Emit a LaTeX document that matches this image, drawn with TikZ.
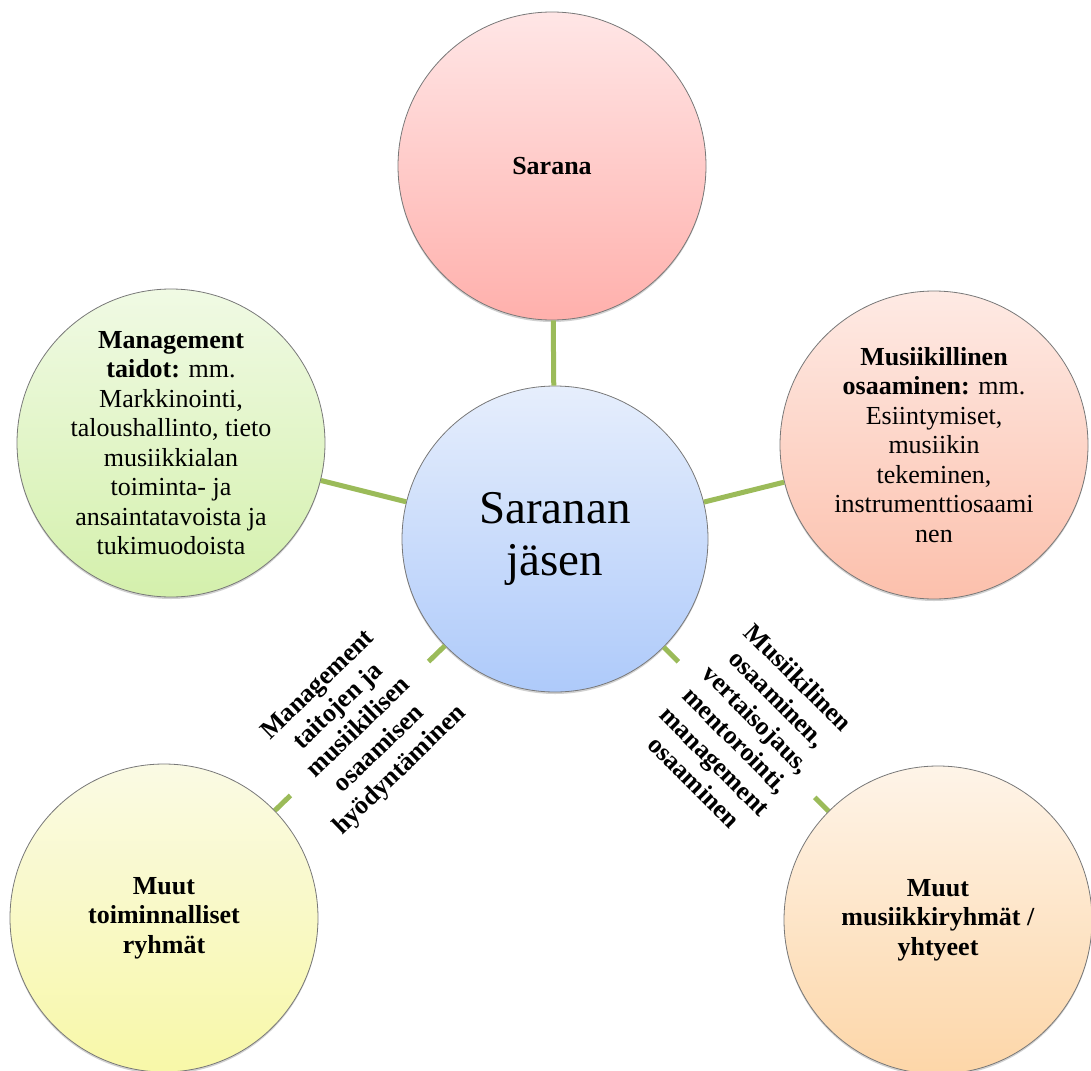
\documentclass[tikz,border=0pt]{standalone}
\usepackage{fontspec}
\setmainfont{Liberation Serif}
\usetikzlibrary{shadows,calc}
\definecolor{connc}{RGB}{155,187,89}
\definecolor{rimc}{RGB}{120,120,120}
\definecolor{tTop}{RGB}{255,230,230}\definecolor{tBot}{RGB}{255,176,172}
\definecolor{cTop}{RGB}{230,238,252}\definecolor{cBot}{RGB}{174,202,250}
\definecolor{rTop}{RGB}{254,234,228}\definecolor{rBot}{RGB}{252,192,172}
\definecolor{lTop}{RGB}{240,250,228}\definecolor{lBot}{RGB}{212,240,172}
\definecolor{blTop}{RGB}{250,250,228}\definecolor{blBot}{RGB}{248,248,168}
\definecolor{brTop}{RGB}{254,244,232}\definecolor{brBot}{RGB}{253,214,168}
\begin{document}
\begin{tikzpicture}[x=1pt,y=-1pt,
  bubble/.style={circle, draw=rimc, line width=0.8pt, minimum size=308pt, inner sep=0pt,
    align=center, font=\fontsize{26}{29.5}\selectfont,
    drop shadow={shadow xshift=0pt, shadow yshift=-2pt, fill=black, opacity=0.18}},
  hub/.style={bubble, minimum size=306pt, font=\fontsize{47}{52}\selectfont},
  link/.style={draw=connc, line width=5pt},
  lbl/.style={fill=white, align=center, font=\bfseries\fontsize{26}{29.5}\selectfont,
    inner sep=2pt, minimum width=192pt}]
\useasboundingbox (0,0) rectangle (1091,1070);
\begin{scope}
\clip (0,0) rectangle (1091,1070);
\node[hub, top color=cTop, bottom color=cBot] (C) at (555,539) {Saranan\\jäsen};
\node[bubble, top color=tTop, bottom color=tBot] (T) at (552,166) {\textbf{Sarana}};
\node[bubble, top color=lTop, bottom color=lBot] (L) at (171,443)
  {\textbf{Management}\\\textbf{taidot:} mm.\\Markkinointi,\\taloushallinto, tieto\\musiikkialan\\toiminta- ja\\ansaintatavoista ja\\tukimuodoista};
\node[bubble, top color=rTop, bottom color=rBot] (R) at (934,445)
  {\textbf{Musiikillinen}\\\textbf{osaaminen:} mm.\\Esiintymiset,\\musiikin\\tekeminen,\\instrumenttiosaami\\nen};
\node[bubble, top color=blTop, bottom color=blBot] (BL) at (164,918)
  {\textbf{Muut}\\\textbf{toiminnalliset}\\\textbf{ryhmät}};
\node[bubble, top color=brTop, bottom color=brBot] (BR) at (938,920)
  {\textbf{Muut}\\\textbf{musiikkiryhmät /}\\\textbf{yhtyeet}};
\draw[link] (C) -- (T);
\draw[link] (C) -- (L);
\draw[link] (C) -- (R);
\draw[link] (C) -- (BL);
\draw[link] (C) -- (BR);
\node[lbl, rotate=44] (lab1) at ($(C)!0.5!(BL)$)
  {Management\\taitojen ja\\musiikilisen\\osaamisen\\hyödyntäminen};
\node[lbl, rotate=-45] (lab2) at ($(C)!0.5!(BR)$)
  {Musiikilinen\\osaaminen,\\vertaisojaus,\\mentorointi,\\management\\osaaminen};
\end{scope}
\end{tikzpicture}
\end{document}
